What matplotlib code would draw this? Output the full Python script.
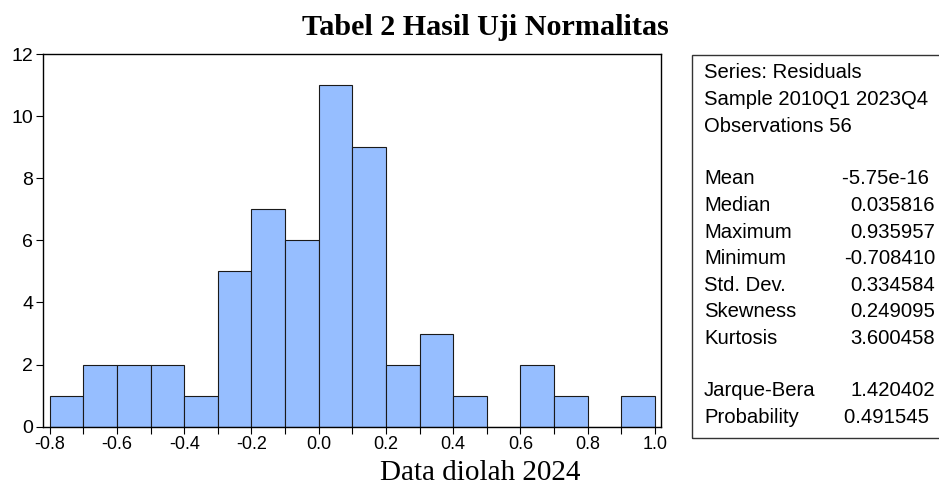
import numpy as np
import matplotlib
matplotlib.use("Agg")
import matplotlib.pyplot as plt
from matplotlib.patches import Rectangle

# histogram of residuals (bin left edges, width 0.1)
bin_left = [-0.8, -0.7, -0.6, -0.5, -0.4, -0.3, -0.2, -0.1, 0.0,
            0.1, 0.2, 0.3, 0.4, 0.5, 0.6, 0.7, 0.8, 0.9]
counts = [1, 2, 2, 2, 1, 5, 7, 6, 11, 9, 2, 3, 1, 0, 2, 1, 0, 1]
bin_width = 0.1

x_ticks = [-0.8, -0.7, -0.6, -0.5, -0.4, -0.3, -0.2, -0.1, 0.0,
           0.1, 0.2, 0.3, 0.4, 0.5, 0.6, 0.7, 0.8, 0.9, 1.0]
x_ticklabels = ["-0.8", "", "-0.6", "", "-0.4", "", "-0.2", "", "0.0",
                "", "0.2", "", "0.4", "", "0.6", "", "0.8", "", "1.0"]
y_ticks = [0, 2, 4, 6, 8, 10, 12]

header_lines = ["Series: Residuals", "Sample 2010Q1 2023Q4", "Observations 56"]
stat_names = ["Mean", "Median", "Maximum", "Minimum", "Std. Dev.",
              "Skewness", "Kurtosis"]
stat_values = ["-5.75e-16 ", "0.035816", "0.935957", "-0.708410",
               "0.334584", "0.249095", "3.600458"]
test_names = ["Jarque-Bera", "Probability"]
test_values = ["1.420402", "0.491545 "]

title = "Tabel 2 Hasil Uji Normalitas"
source = "Data diolah 2024"

W, H = 939, 486
fig = plt.figure(figsize=(W / 100, H / 100), dpi=100)

def fx(px):
    return px / W

def fy(py):
    return 1 - py / H

ax = fig.add_axes([fx(43), fy(426.7), fx(661 - 43), (426.7 - 54) / H])
ax.bar(bin_left, counts, width=bin_width, align="edge",
       color="#96BEFF", edgecolor="#1a1a1a", linewidth=0.8)
ax.set_xlim(-0.82, 1.018)
ax.set_ylim(0, 12)
ax.set_xticks(x_ticks)
ax.set_xticklabels(x_ticklabels)
ax.set_yticks(y_ticks)
ax.tick_params(direction="out", length=5, width=0.8, pad=2, colors="black")
ax.tick_params(axis="x", labelsize=13)
ax.tick_params(axis="y", labelsize=14)
for lab in ax.get_xticklabels() + ax.get_yticklabels():
    lab.set_fontfamily("Liberation Sans")
for spine in ax.spines.values():
    spine.set_linewidth(1.0)
    spine.set_color("black")

fig.text(fx(485), fy(35), title, ha="center", va="baseline",
         fontfamily="Liberation Serif", fontweight="bold", fontsize=21.7)
fig.text(fx(480), fy(480), source, ha="center", va="baseline",
         fontfamily="Liberation Serif", fontsize=21)

# statistics box on the right
box = Rectangle((fx(692), fy(438)), fx(260), (438 - 55) / H,
                transform=fig.transFigure, fill=False,
                edgecolor="#333333", linewidth=1.0, clip_on=False)
fig.add_artist(box)

row_step = 26.5
row0 = 73
rows = []
for line in header_lines:
    rows.append((line, ""))
rows.append(("", ""))
rows += list(zip(stat_names, stat_values))
rows.append(("", ""))
rows += list(zip(test_names, test_values))

for i, (name, val) in enumerate(rows):
    y = fy(row0 + i * row_step)
    if name:
        fig.text(fx(704), y, name, ha="left", va="center",
                 fontfamily="Liberation Sans", fontsize=14.6)
    if val:
        fig.text(fx(935), y, val, ha="right", va="center",
                 fontfamily="Liberation Sans", fontsize=14.6)

fig.savefig("out.png", dpi=100)
